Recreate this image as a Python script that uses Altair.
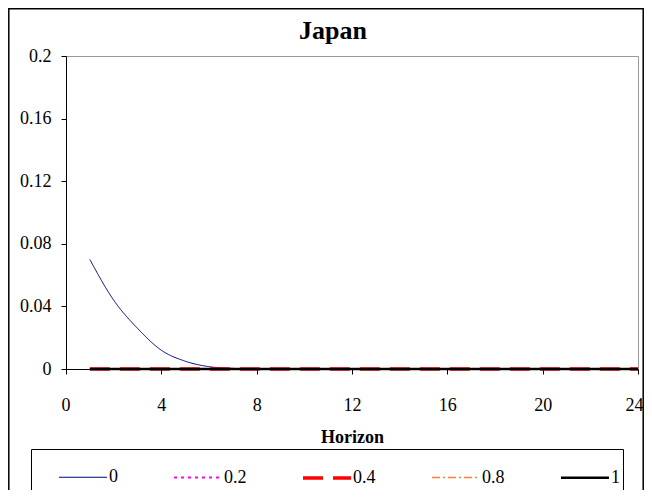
import altair as alt
import pandas as pd

# ---- data ----
horizon = list(range(1, 25))
series_names = ["0", "0.2", "0.4", "0.8", "1"]
s_0 = [0.070, 0.044, 0.026, 0.012, 0.005, 0.0015, 0.0004, 0.0001, 0, 0, 0, 0,
       0, 0, 0, 0, 0, 0, 0, 0, 0, 0, 0, 0]
s_02 = [0, 0, 0, 0, 0, 0, 0, 0, 0, 0, 0, 0, 0, 0, 0, 0, 0, 0, 0, 0, 0, 0, 0, 0]
s_04 = [0, 0, 0, 0, 0, 0, 0, 0, 0, 0, 0, 0, 0, 0, 0, 0, 0, 0, 0, 0, 0, 0, 0, 0]
s_08 = [0, 0, 0, 0, 0, 0, 0, 0, 0, 0, 0, 0, 0, 0, 0, 0, 0, 0, 0, 0, 0, 0, 0, 0]
s_1 = [0, 0, 0, 0, 0, 0, 0, 0, 0, 0, 0, 0, 0, 0, 0, 0, 0, 0, 0, 0, 0, 0, 0, 0]
x_ticks = [0, 4, 8, 12, 16, 20, 24]
y_ticks = [0, 0.04, 0.08, 0.12, 0.16, 0.2]

# ---- styles ----
colors = ["#000080", "#FF00FF", "#FF0000", "#FF7F27", "#000000"]
dashes = [[1, 0], [3, 4], [20, 10], [8, 3, 2, 3], [1, 0]]
widths = [1, 2, 3.5, 1.3, 2.5]
FONT = "Liberation Serif"

rows = []
for name, vals in zip(series_names, [s_0, s_02, s_04, s_08, s_1]):
    for h, v in zip(horizon, vals):
        rows.append({"Horizon": h, "value": v, "series": name})
df = pd.DataFrame(rows)

legend = alt.Legend(
    title=None, orient="none", legendX=-35, legendY=393, direction="horizontal",
    columns=5, symbolType="stroke", symbolSize=2304, symbolOffset=23,
    labelOffset=0, labelFont=FONT, labelFontSize=18, labelColor="black",
    labelExpr="datum.label == '1' ? '1   ' : datum.label",
    padding=3, strokeColor="black", fillColor="white", columnPadding=31,
    labelLimit=200,
)

lines = alt.Chart(df).mark_line(interpolate="monotone").encode(
    x=alt.X("Horizon:Q", scale=alt.Scale(domain=[0, 24], nice=False),
            axis=alt.Axis(values=x_ticks, title="Horizon", titleFont=FONT,
                          titleFontSize=18, titleFontWeight="bold", titleColor="black",
                          titleY=73, titleBaseline="alphabetic",
                          labelFont=FONT, labelFontSize=18, labelColor="black",
                          labelPadding=22, tickSize=5, tickColor="black",
                          domainColor="black", grid=False,
                          labelFlush=True, labelFlushOffset=5)),
    y=alt.Y("value:Q", scale=alt.Scale(domain=[0, 0.2], nice=False),
            axis=alt.Axis(values=y_ticks, format=".2~f", title=None,
                          labelFont=FONT, labelFontSize=18, labelColor="black",
                          labelPadding=10, tickSize=5, tickColor="black",
                          domainColor="black", grid=False)),
    color=alt.Color("series:N", sort=series_names,
                    scale=alt.Scale(domain=series_names, range=colors), legend=legend),
    strokeDash=alt.StrokeDash("series:N", sort=series_names,
                              scale=alt.Scale(domain=series_names, range=dashes), legend=legend),
    strokeWidth=alt.StrokeWidth("series:N", sort=series_names,
                                scale=alt.Scale(type="ordinal", domain=series_names, range=widths),
                                legend=legend),
)

frame = alt.Chart(pd.DataFrame({"k": [0]})).mark_rect(
    filled=False, stroke="black", strokeWidth=1.5
).encode(x=alt.value(-57.2), x2=alt.value(577.2), y=alt.value(-47.2), y2=alt.value(445))

chart = alt.layer(frame, lines).properties(
    width=572, height=313,
    autosize=alt.AutoSizeParams(type="none"),
    padding={"left": 58, "top": 48, "right": 6, "bottom": 121},
    background="white",
    title=alt.TitleParams("Japan", font=FONT, fontSize=26, fontWeight="bold",
                          color="black", anchor="middle", frame="group",
                          dx=-19, offset=-36),
).configure_view(stroke="#999999", strokeWidth=1)

chart.save("out.html", embed_options={"renderer": "svg", "actions": False})
